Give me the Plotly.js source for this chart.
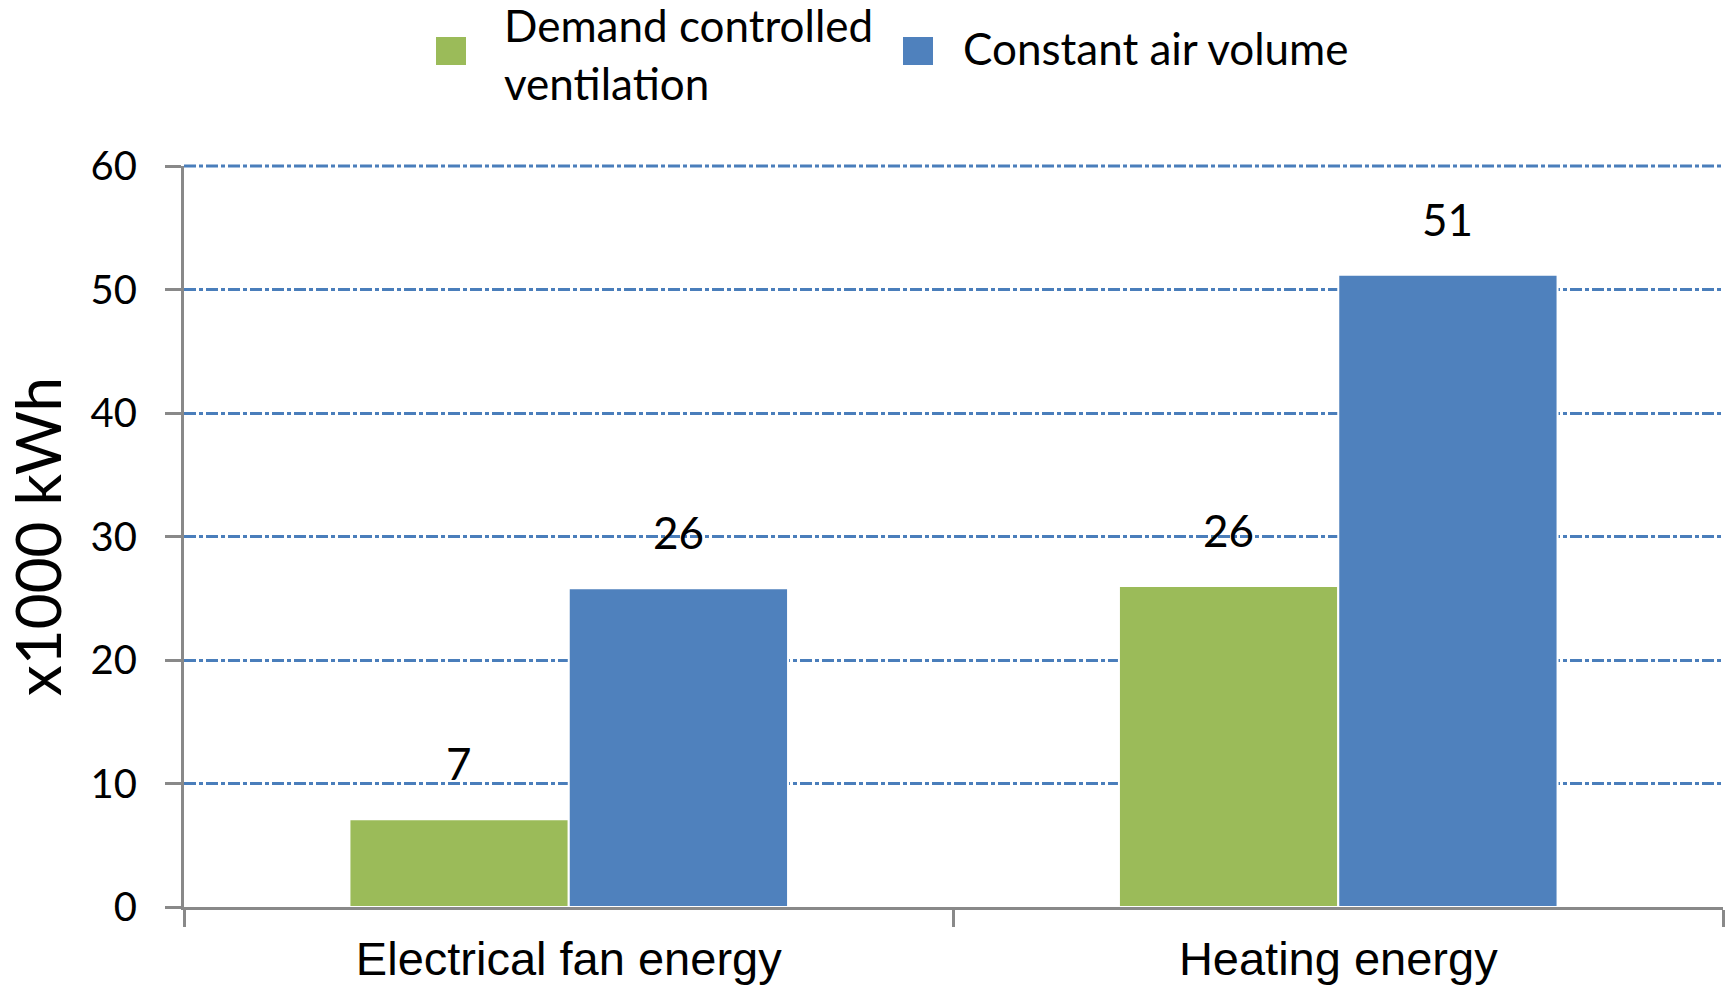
<!DOCTYPE html>
<html>
<head>
<meta charset="utf-8">
<script src="https://cdn.plot.ly/plotly-3.0.1.min.js"></script>
<style>
  html, body { margin: 0; padding: 0; background: #ffffff; }
  #chart { width: 1732px; height: 989px; }
</style>
</head>
<body>
<div id="chart"></div>
<script>
// ---- data ----
const categories = ['Electrical fan energy', 'Heating energy'];
const seriesNames = ['Demand controlled ventilation', 'Constant air volume'];
const legendLabels = ['Demand controlled<br>ventilation', 'Constant air volume'];
const dcvValues = [7.1, 26.0];
const cavValues = [25.8, 51.2];
const yTickValues = [0, 10, 20, 30, 40, 50, 60];
const yTickLabels = ['0', '10', '20', '30', '40', '50', '60'];
const yAxisTitle = 'x1000 kWh';

// ---- style ----
const colors = ['#9bbb59', '#4f81bd'];
const gridColor = '#4a7ebb';
const gridDash = '12px,3px,4px,3px';
const W = 1732, H = 989;
const M = { l: 184, r: 9, t: 166, b: 82 };
const plotW = W - M.l - M.r;
const plotH = H - M.t - M.b;
const bargap = 0.43;
const barPx = plotW / categories.length * (1 - bargap) / 2;
const yMax = yTickValues[yTickValues.length - 1];

const series = [dcvValues, cavValues];

const traces = series.map((vals, i) => ({
  type: 'bar',
  name: seriesNames[i],
  x: categories,
  y: vals,
  marker: { color: colors[i], line: { color: '#ffffff', width: 2 } },
  hoverinfo: 'x+y+name',
  showlegend: false
}));

// data labels
const annotations = [];
series.forEach((vals, i) => {
  vals.forEach((v, j) => {
    annotations.push({
      x: categories[j], y: v, xref: 'x', yref: 'y',
      text: String(Math.round(v)),
      showarrow: false,
      xanchor: 'center', yanchor: 'bottom',
      xshift: (i === 0 ? -1 : 1) * barPx / 2,
      yshift: 28,
      font: { family: 'Lato, "Open Sans", sans-serif', size: 44, color: '#000000' }
    });
  });
});

// custom legend
const px2x = px => (px - M.l) / plotW;
const py2y = py => (H - M.b - py) / plotH;
const legendSquares = [[436, 466], [903, 933]];
const legendTextX = [502, 961];
const legendLineY = [[25, 83], [48]];
const shapes = [];
// top gridline on the plot's upper edge (Plotly omits the gridline on the range edge)
shapes.push({
  type: 'line', xref: 'paper', yref: 'paper', x0: 0, x1: 1, y0: 1, y1: 1,
  line: { color: gridColor, width: 3, dash: gridDash }, layer: 'below'
});
legendLabels.forEach((lab, i) => {
  shapes.push({
    type: 'rect', xref: 'paper', yref: 'paper',
    x0: px2x(legendSquares[i][0]), x1: px2x(legendSquares[i][1]),
    y0: py2y(65), y1: py2y(37),
    fillcolor: colors[i], line: { width: 0 }
  });
  lab.split('<br>').forEach((line, k) => {
    annotations.push({
      xref: 'paper', yref: 'paper',
      x: px2x(legendTextX[i]), y: py2y(legendLineY[i][k]),
      xanchor: 'left', yanchor: 'middle',
      text: line, showarrow: false,
      font: { family: 'Lato, "Open Sans", sans-serif', size: 44, color: '#000000' }
    });
  });
});

const layout = {
  width: W, height: H,
  margin: M,
  paper_bgcolor: '#ffffff',
  plot_bgcolor: '#ffffff',
  barmode: 'group',
  bargap: bargap,
  bargroupgap: 0,
  showlegend: false,
  xaxis: {
    type: 'category',
    showline: true, linecolor: '#898989', linewidth: 3,
    ticks: 'outside', tickson: 'boundaries', ticklen: 17, tickwidth: 3, tickcolor: '#898989',
    tickfont: { family: '"Liberation Sans", Arial, sans-serif', size: 47, color: '#000000' },
    ticklabelstandoff: 9,
    showgrid: false, zeroline: false,
    fixedrange: true
  },
  yaxis: {
    range: [0, yMax],
    tickvals: yTickValues, ticktext: yTickLabels,
    showline: true, linecolor: '#898989', linewidth: 3,
    ticks: 'outside', ticklen: 16, tickwidth: 3, tickcolor: '#898989',
    tickfont: { family: 'Lato, "Open Sans", sans-serif', size: 40, color: '#000000' },
    ticklabelstandoff: 20,
    showgrid: true, gridcolor: gridColor, gridwidth: 3, griddash: gridDash,
    zeroline: false,
    title: { text: yAxisTitle, standoff: 20,
      font: { family: 'Lato, "Open Sans", sans-serif', size: 62, color: '#000000' } },
    automargin: false,
    fixedrange: true
  },
  annotations: annotations,
  shapes: shapes
};

Plotly.newPlot('chart', traces, layout, { displayModeBar: false, staticPlot: true });
</script>
</body>
</html>
